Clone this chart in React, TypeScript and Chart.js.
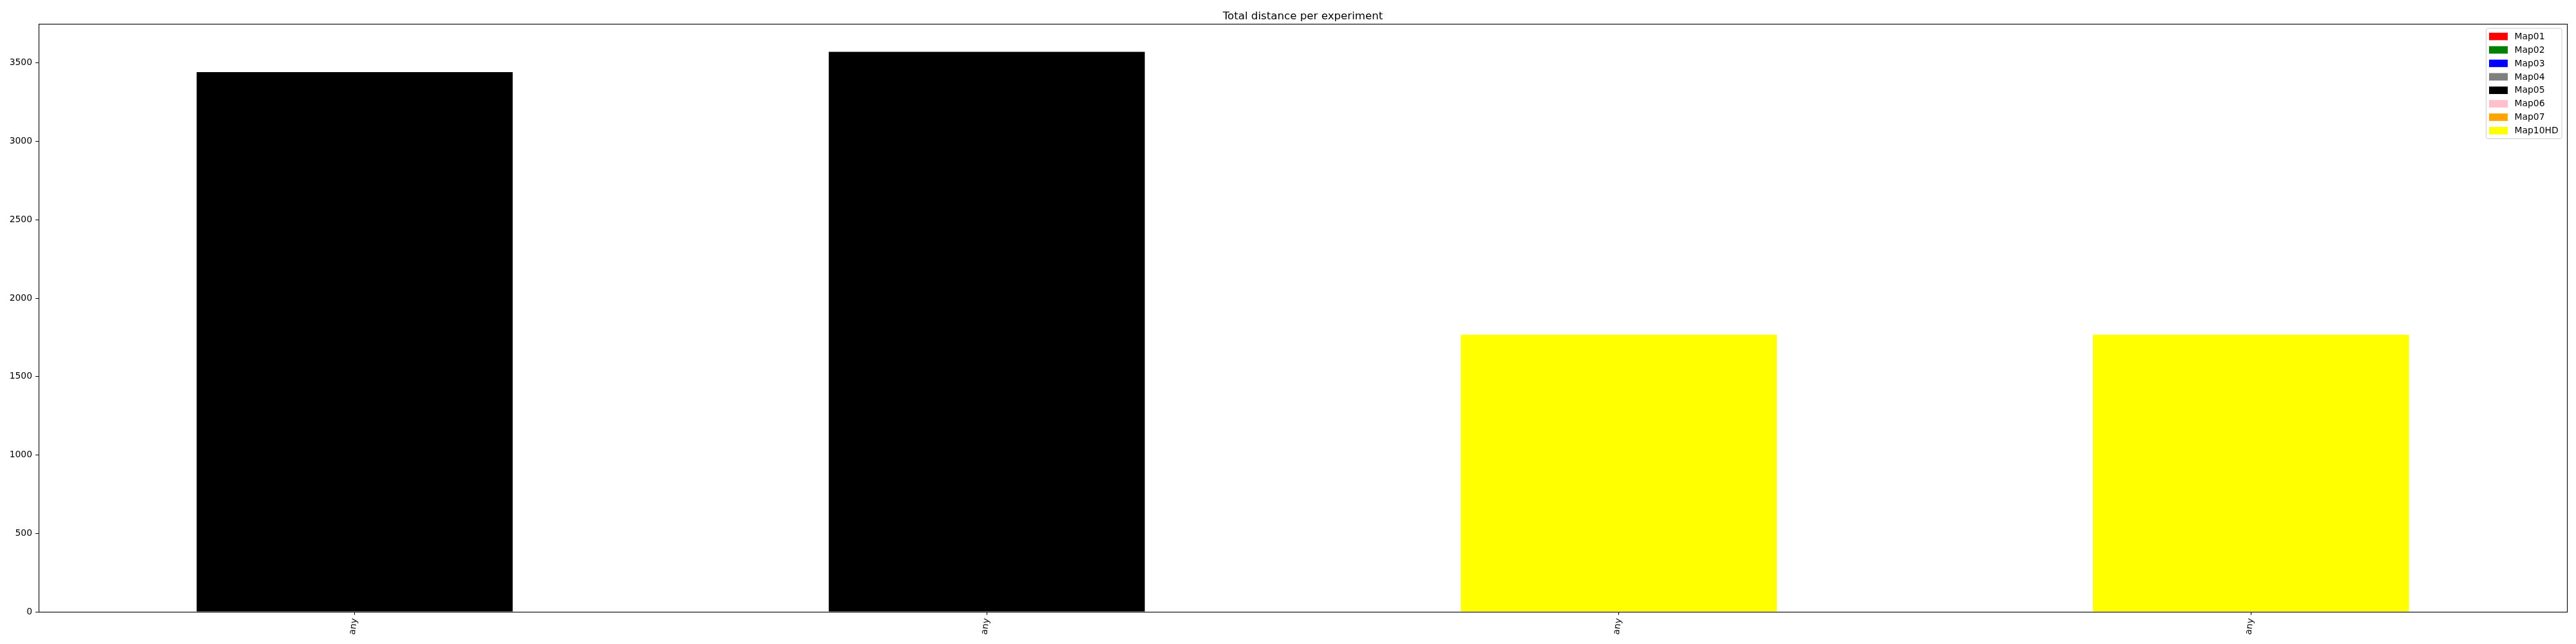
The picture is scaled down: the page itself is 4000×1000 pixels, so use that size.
import React, { useEffect, useRef } from "react";
import { Chart, registerables } from "chart.js";

Chart.register(...registerables);

// ---- data ----
const categories = ["any", "any", "any", "any"];
const seriesNames = ["Map01", "Map02", "Map03", "Map04", "Map05", "Map06", "Map07", "Map10HD"];
const seriesColors = ["#ff0000", "#008000", "#0000ff", "#808080", "#000000", "#ffc0cb", "#ffa500", "#ffff00"];
const map01: (number | null)[] = [null, null, null, null];
const map02: (number | null)[] = [null, null, null, null];
const map03: (number | null)[] = [null, null, null, null];
const map04: (number | null)[] = [null, null, null, null];
const map05: (number | null)[] = [3442, 3571, null, null];
const map06: (number | null)[] = [null, null, null, null];
const map07: (number | null)[] = [null, null, null, null];
const map10hd: (number | null)[] = [null, null, 1767, 1767];
const yTicks = [0, 500, 1000, 1500, 2000, 2500, 3000, 3500];
const yMax = 3750;
const chartTitle = "Total distance per experiment";

const seriesValues = [map01, map02, map03, map04, map05, map06, map07, map10hd];
const FONT = "'DejaVu Sans', sans-serif";

const framePlugin = {
  id: "frameAndExtras",
  afterDraw(chart: any) {
    const ctx = chart.ctx;
    const a = chart.chartArea;
    ctx.save();
    // frame
    ctx.strokeStyle = "#000";
    ctx.lineWidth = 1.1;
    ctx.strokeRect(Math.round(a.left) + 0.5, Math.round(a.top) + 0.5, Math.round(a.right - a.left), Math.round(a.bottom - a.top));
    // title
    ctx.fillStyle = "#000";
    ctx.font = `16.67px ${FONT}`;
    ctx.textAlign = "center";
    ctx.textBaseline = "alphabetic";
    ctx.fillText(chartTitle, (a.left + a.right) / 2, a.top - 7.5);
    // legend
    const ds = chart.data.datasets;
    const bx = a.right - 125.5;
    const by = a.top + 7;
    const bw = 117.5;
    const bh = 171.5;
    const r = 3;
    ctx.beginPath();
    ctx.moveTo(bx + r, by);
    ctx.lineTo(bx + bw - r, by);
    ctx.quadraticCurveTo(bx + bw, by, bx + bw, by + r);
    ctx.lineTo(bx + bw, by + bh - r);
    ctx.quadraticCurveTo(bx + bw, by + bh, bx + bw - r, by + bh);
    ctx.lineTo(bx + r, by + bh);
    ctx.quadraticCurveTo(bx, by + bh, bx, by + bh - r);
    ctx.lineTo(bx, by + r);
    ctx.quadraticCurveTo(bx, by, bx + r, by);
    ctx.closePath();
    ctx.fillStyle = "rgba(255,255,255,0.8)";
    ctx.fill();
    ctx.strokeStyle = "#cccccc";
    ctx.lineWidth = 1;
    ctx.stroke();
    ctx.font = `13.9px ${FONT}`;
    ctx.textAlign = "left";
    ctx.textBaseline = "alphabetic";
    for (let i = 0; i < ds.length; i++) {
      const cy = by + 12.6 + 20.9 * i;
      ctx.fillStyle = ds[i].backgroundColor;
      ctx.fillRect(bx + 4.5, cy - 5.8, 29, 11.6);
      ctx.fillStyle = "#000";
      ctx.fillText(ds[i].label, bx + 44, cy + 4.2);
    }
    ctx.restore();
  },
};

export default function App() {
  const ref = useRef<HTMLCanvasElement | null>(null);
  useEffect(() => {
    document.body.style.margin = "0";
    if (!ref.current) return;
    const datasets = seriesNames.map((name, si) => ({
      label: name,
      backgroundColor: seriesColors[si],
      borderWidth: 0,
      barPercentage: 0.5,
      categoryPercentage: 1.0,
      data: seriesValues[si],
    }));
    const chart = new Chart(ref.current, {
      type: "bar",
      data: { labels: categories, datasets } as any,
      options: {
        responsive: false,
        animation: false,
        devicePixelRatio: 1,
        layout: { padding: { top: 37, right: 14, left: 0, bottom: 0 } },
        plugins: {
          legend: { display: false },
          title: { display: false },
          tooltip: { enabled: false },
        },
        scales: {
          x: {
            type: "category",
            stacked: true,
            offset: true,
            afterFit: (scale: any) => {
              scale.height = 50;
            },
            grid: {
              display: true,
              offset: false,
              drawOnChartArea: false,
              drawTicks: true,
              tickLength: 5,
              tickColor: "#000",
              tickWidth: 1,
            },
            border: { display: false },
            ticks: {
              autoSkip: false,
              minRotation: 82,
              maxRotation: 82,
              padding: 4,
              color: "#000",
              font: { family: FONT, size: 13.9 },
            },
          },
          y: {
            type: "linear",
            stacked: true,
            min: 0,
            max: yMax,
            afterBuildTicks: (scale: any) => {
              scale.ticks = yTicks.map((v) => ({ value: v }));
            },
            afterFit: (scale: any) => {
              scale.width = 60;
            },
            grid: {
              display: true,
              drawOnChartArea: false,
              drawTicks: true,
              tickLength: 5,
              tickColor: "#000",
              tickWidth: 1,
            },
            border: { display: false },
            ticks: {
              padding: 5,
              color: "#000",
              font: { family: FONT, size: 13.9 },
              callback: (v: any) => String(v),
            },
          },
        },
      } as any,
      plugins: [framePlugin],
    });
    return () => chart.destroy();
  }, []);
  return (
    <div style={{ position: "absolute", left: 0, top: 0, width: 4000, height: 1000, background: "#fff" }}>
      <canvas ref={ref} width={4000} height={1000} style={{ display: "block" }} />
    </div>
  );
}
